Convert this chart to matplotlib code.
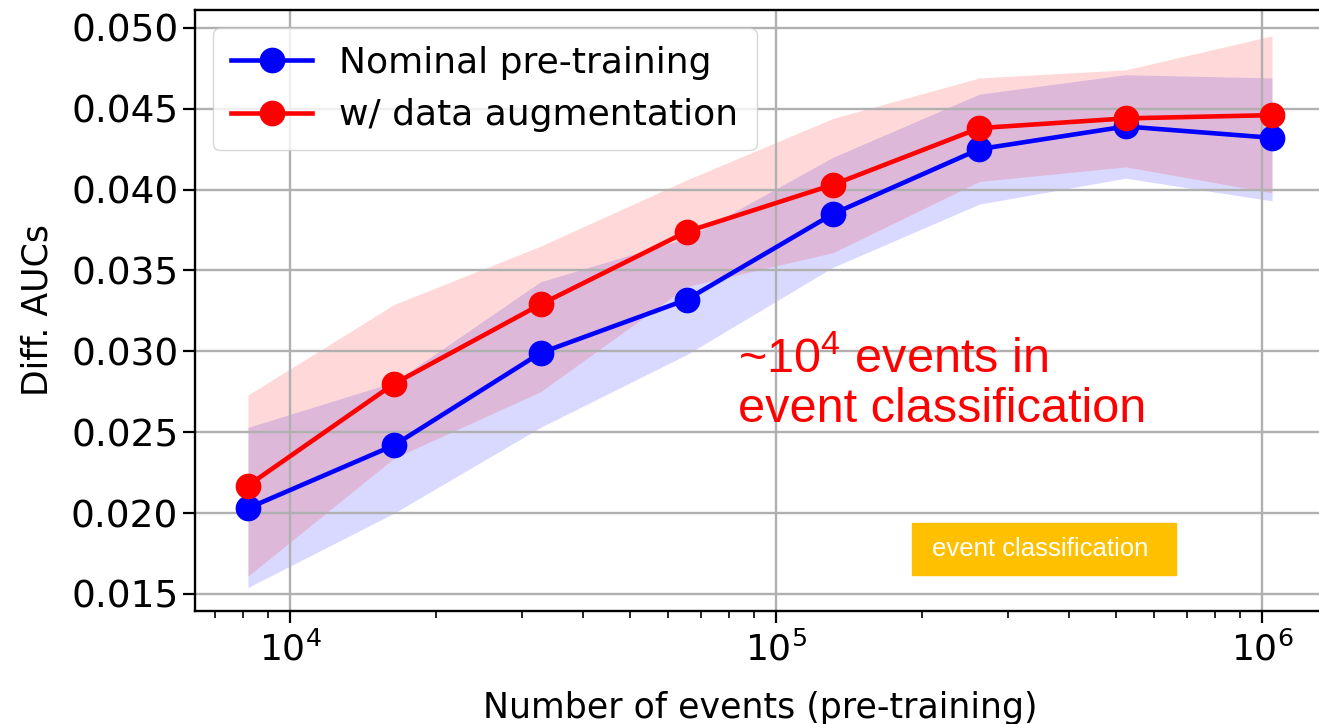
import matplotlib
matplotlib.use("Agg")
import matplotlib.pyplot as plt
from matplotlib.patches import Rectangle

# pre-training dataset sizes (2^13 ... 2^20)
n_events = [8192, 16384, 32768, 65536, 131072, 262144, 524288, 1048576]

# nominal pre-training
nominal_mean = [0.0203, 0.0242, 0.0299, 0.0332, 0.0385, 0.0425, 0.0439, 0.0432]
nominal_low = [0.0154, 0.0200, 0.0253, 0.0298, 0.0352, 0.0391, 0.0407, 0.0393]
nominal_high = [0.0253, 0.0281, 0.0343, 0.0370, 0.0420, 0.0459, 0.0471, 0.0469]

# with data augmentation
augment_mean = [0.0217, 0.0280, 0.0329, 0.0374, 0.0403, 0.0438, 0.0444, 0.0446]
augment_low = [0.0161, 0.0234, 0.0275, 0.0340, 0.0361, 0.0405, 0.0414, 0.0398]
augment_high = [0.0273, 0.0329, 0.0365, 0.0406, 0.0444, 0.0469, 0.0474, 0.0495]

y_ticks = [0.015, 0.020, 0.025, 0.030, 0.035, 0.040, 0.045, 0.050]

fig = plt.figure(figsize=(13.19, 7.24), dpi=100)
ax = fig.add_axes([195 / 1319, 0.1561, 1131 / 1319, 0.8301])

ax.fill_between(n_events, nominal_low, nominal_high, color='blue', alpha=0.15, lw=0)
ax.fill_between(n_events, augment_low, augment_high, color='red', alpha=0.15, lw=0)
ax.plot(n_events, nominal_mean, color='blue', marker='o', lw=3.3, ms=17.5,
        label='Nominal pre-training')
ax.plot(n_events, augment_mean, color='red', marker='o', lw=3.3, ms=17.5,
        label='w/ data augmentation')

ax.set_xscale('log')
ax.set_xlim(10**3.8045, 10**6.1317)
ax.set_ylim(0.01395, 0.0511)
ax.set_yticks(y_ticks)
ax.set_yticklabels([f'{v:.3f}' for v in y_ticks])
ax.grid(True, which='major', color='#b0b0b0', lw=1.7)

ax.tick_params(axis='y', which='major', labelsize=27, length=8.5, width=1.6)
ax.tick_params(axis='x', which='major', labelsize=26, length=8.5, width=1.6, pad=6)
ax.tick_params(which='minor', length=5, width=1.2)
for s in ax.spines.values():
    s.set_linewidth(1.7)

ax.set_xlabel('Number of events (pre-training)', fontsize=25, labelpad=17)
ax.set_ylabel('Diff. AUCs', fontsize=25, labelpad=12)

ax.legend(loc='upper left', fontsize=26, handlelength=2.25, handletextpad=0.75,
          borderpad=0.5, labelspacing=0.5)

ax.text(0.48, 0.376, '~$\\mathregular{10^4}$ events in\nevent classification',
        transform=ax.transAxes, color='red', fontsize=35, family='Liberation Sans',
        va='center', ha='left', linespacing=1.12)

# orange tag in the lower right
fig.patches.append(Rectangle((912 / 1319, 1 - 575 / 724), 264 / 1319, 52 / 724,
                             transform=fig.transFigure, color='#ffc000', zorder=5))
fig.text(1040 / 1319, 1 - 549 / 724, 'event classification', color='white',
         fontsize=18.5, family='Liberation Sans', ha='center', va='center', zorder=6)

fig.savefig('out.png', dpi=100)
